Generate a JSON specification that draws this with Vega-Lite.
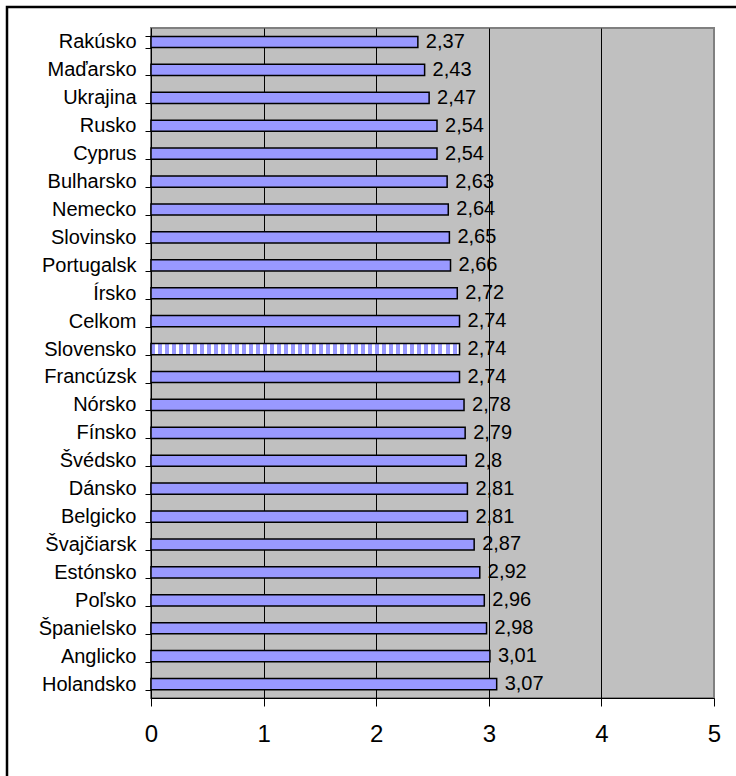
{
  "$schema": "https://vega.github.io/schema/vega-lite/v6.json",
  "width": 563,
  "height": 670,
  "autosize": {"type": "none"},
  "padding": {"left": 151, "top": 28, "right": 22, "bottom": 78},
  "background": "white",
  "config": {
    "font": "Liberation Sans",
    "view": {"fill": "#C0C0C0", "stroke": "#808080", "strokeWidth": 2},
    "locale": {
      "number": {"decimal": ",", "thousands": " ", "grouping": [3], "currency": ["", " €"]}
    }
  },
  "data": {
    "values": [
      {"krajina": "Rakúsko", "hodnota": 2.37},
      {"krajina": "Maďarsko", "hodnota": 2.43},
      {"krajina": "Ukrajina", "hodnota": 2.47},
      {"krajina": "Rusko", "hodnota": 2.54},
      {"krajina": "Cyprus", "hodnota": 2.54},
      {"krajina": "Bulharsko", "hodnota": 2.63},
      {"krajina": "Nemecko", "hodnota": 2.64},
      {"krajina": "Slovinsko", "hodnota": 2.65},
      {"krajina": "Portugalsk", "hodnota": 2.66},
      {"krajina": "Írsko", "hodnota": 2.72},
      {"krajina": "Celkom", "hodnota": 2.74},
      {"krajina": "Slovensko", "hodnota": 2.74},
      {"krajina": "Francúzsk", "hodnota": 2.74},
      {"krajina": "Nórsko", "hodnota": 2.78},
      {"krajina": "Fínsko", "hodnota": 2.79},
      {"krajina": "Švédsko", "hodnota": 2.8},
      {"krajina": "Dánsko", "hodnota": 2.81},
      {"krajina": "Belgicko", "hodnota": 2.81},
      {"krajina": "Švajčiarsk", "hodnota": 2.87},
      {"krajina": "Estónsko", "hodnota": 2.92},
      {"krajina": "Poľsko", "hodnota": 2.96},
      {"krajina": "Španielsko", "hodnota": 2.98},
      {"krajina": "Anglicko", "hodnota": 3.01},
      {"krajina": "Holandsko", "hodnota": 3.07}
    ]
  },
  "encoding": {
    "y": {
      "field": "krajina",
      "type": "nominal",
      "sort": null,
      "title": null,
      "scale": {"paddingInner": 0.6, "paddingOuter": 0.3},
      "axis": {
        "tickBand": "extent",
        "tickSize": 6,
        "tickColor": "black",
        "domainColor": "black",
        "domainWidth": 1,
        "labelFontSize": 20,
        "labelColor": "black",
        "labelPadding": 9,
        "grid": false
      }
    },
    "x": {
      "field": "hodnota",
      "type": "quantitative",
      "title": null,
      "scale": {"domain": [0, 5], "nice": false},
      "axis": {
        "values": [0, 1, 2, 3, 4, 5],
        "grid": true,
        "gridColor": {"condition": {"test": "datum.value === 5", "value": "#808080"}, "value": "black"},
        "gridOpacity": 1,
        "gridWidth": 1,
        "tickSize": 8,
        "tickColor": "black",
        "domainColor": "black",
        "domainWidth": 1,
        "labelFontSize": 24,
        "labelColor": "black",
        "labelPadding": 16,
        "labelFlush": false,
        "format": "d"
      }
    }
  },
  "layer": [
    {
      "mark": {"type": "bar", "stroke": "black", "strokeWidth": 1.5},
      "encoding": {
        "color": {
          "condition": {
            "test": "datum.krajina === 'Slovensko'",
            "value": {
              "gradient": "linear",
              "x1": 0, "y1": 0, "x2": 1, "y2": 0,
              "stops": [
                {"offset": 0, "color": "#9999FF"}, {"offset": 0.01299, "color": "#9999FF"}, {"offset": 0.01299, "color": "#FFFFFF"}, {"offset": 0.02273, "color": "#FFFFFF"},
                {"offset": 0.02273, "color": "#9999FF"}, {"offset": 0.03571, "color": "#9999FF"}, {"offset": 0.03571, "color": "#FFFFFF"}, {"offset": 0.04545, "color": "#FFFFFF"},
                {"offset": 0.04545, "color": "#9999FF"}, {"offset": 0.05844, "color": "#9999FF"}, {"offset": 0.05844, "color": "#FFFFFF"}, {"offset": 0.06818, "color": "#FFFFFF"},
                {"offset": 0.06818, "color": "#9999FF"}, {"offset": 0.08117, "color": "#9999FF"}, {"offset": 0.08117, "color": "#FFFFFF"}, {"offset": 0.09091, "color": "#FFFFFF"},
                {"offset": 0.09091, "color": "#9999FF"}, {"offset": 0.1039, "color": "#9999FF"}, {"offset": 0.1039, "color": "#FFFFFF"}, {"offset": 0.11364, "color": "#FFFFFF"},
                {"offset": 0.11364, "color": "#9999FF"}, {"offset": 0.12662, "color": "#9999FF"}, {"offset": 0.12662, "color": "#FFFFFF"}, {"offset": 0.13636, "color": "#FFFFFF"},
                {"offset": 0.13636, "color": "#9999FF"}, {"offset": 0.14935, "color": "#9999FF"}, {"offset": 0.14935, "color": "#FFFFFF"}, {"offset": 0.15909, "color": "#FFFFFF"},
                {"offset": 0.15909, "color": "#9999FF"}, {"offset": 0.17208, "color": "#9999FF"}, {"offset": 0.17208, "color": "#FFFFFF"}, {"offset": 0.18182, "color": "#FFFFFF"},
                {"offset": 0.18182, "color": "#9999FF"}, {"offset": 0.19481, "color": "#9999FF"}, {"offset": 0.19481, "color": "#FFFFFF"}, {"offset": 0.20455, "color": "#FFFFFF"},
                {"offset": 0.20455, "color": "#9999FF"}, {"offset": 0.21753, "color": "#9999FF"}, {"offset": 0.21753, "color": "#FFFFFF"}, {"offset": 0.22727, "color": "#FFFFFF"},
                {"offset": 0.22727, "color": "#9999FF"}, {"offset": 0.24026, "color": "#9999FF"}, {"offset": 0.24026, "color": "#FFFFFF"}, {"offset": 0.25, "color": "#FFFFFF"},
                {"offset": 0.25, "color": "#9999FF"}, {"offset": 0.26299, "color": "#9999FF"}, {"offset": 0.26299, "color": "#FFFFFF"}, {"offset": 0.27273, "color": "#FFFFFF"},
                {"offset": 0.27273, "color": "#9999FF"}, {"offset": 0.28571, "color": "#9999FF"}, {"offset": 0.28571, "color": "#FFFFFF"}, {"offset": 0.29545, "color": "#FFFFFF"},
                {"offset": 0.29545, "color": "#9999FF"}, {"offset": 0.30844, "color": "#9999FF"}, {"offset": 0.30844, "color": "#FFFFFF"}, {"offset": 0.31818, "color": "#FFFFFF"},
                {"offset": 0.31818, "color": "#9999FF"}, {"offset": 0.33117, "color": "#9999FF"}, {"offset": 0.33117, "color": "#FFFFFF"}, {"offset": 0.34091, "color": "#FFFFFF"},
                {"offset": 0.34091, "color": "#9999FF"}, {"offset": 0.3539, "color": "#9999FF"}, {"offset": 0.3539, "color": "#FFFFFF"}, {"offset": 0.36364, "color": "#FFFFFF"},
                {"offset": 0.36364, "color": "#9999FF"}, {"offset": 0.37662, "color": "#9999FF"}, {"offset": 0.37662, "color": "#FFFFFF"}, {"offset": 0.38636, "color": "#FFFFFF"},
                {"offset": 0.38636, "color": "#9999FF"}, {"offset": 0.39935, "color": "#9999FF"}, {"offset": 0.39935, "color": "#FFFFFF"}, {"offset": 0.40909, "color": "#FFFFFF"},
                {"offset": 0.40909, "color": "#9999FF"}, {"offset": 0.42208, "color": "#9999FF"}, {"offset": 0.42208, "color": "#FFFFFF"}, {"offset": 0.43182, "color": "#FFFFFF"},
                {"offset": 0.43182, "color": "#9999FF"}, {"offset": 0.44481, "color": "#9999FF"}, {"offset": 0.44481, "color": "#FFFFFF"}, {"offset": 0.45455, "color": "#FFFFFF"},
                {"offset": 0.45455, "color": "#9999FF"}, {"offset": 0.46753, "color": "#9999FF"}, {"offset": 0.46753, "color": "#FFFFFF"}, {"offset": 0.47727, "color": "#FFFFFF"},
                {"offset": 0.47727, "color": "#9999FF"}, {"offset": 0.49026, "color": "#9999FF"}, {"offset": 0.49026, "color": "#FFFFFF"}, {"offset": 0.5, "color": "#FFFFFF"},
                {"offset": 0.5, "color": "#9999FF"}, {"offset": 0.51299, "color": "#9999FF"}, {"offset": 0.51299, "color": "#FFFFFF"}, {"offset": 0.52273, "color": "#FFFFFF"},
                {"offset": 0.52273, "color": "#9999FF"}, {"offset": 0.53571, "color": "#9999FF"}, {"offset": 0.53571, "color": "#FFFFFF"}, {"offset": 0.54545, "color": "#FFFFFF"},
                {"offset": 0.54545, "color": "#9999FF"}, {"offset": 0.55844, "color": "#9999FF"}, {"offset": 0.55844, "color": "#FFFFFF"}, {"offset": 0.56818, "color": "#FFFFFF"},
                {"offset": 0.56818, "color": "#9999FF"}, {"offset": 0.58117, "color": "#9999FF"}, {"offset": 0.58117, "color": "#FFFFFF"}, {"offset": 0.59091, "color": "#FFFFFF"},
                {"offset": 0.59091, "color": "#9999FF"}, {"offset": 0.6039, "color": "#9999FF"}, {"offset": 0.6039, "color": "#FFFFFF"}, {"offset": 0.61364, "color": "#FFFFFF"},
                {"offset": 0.61364, "color": "#9999FF"}, {"offset": 0.62662, "color": "#9999FF"}, {"offset": 0.62662, "color": "#FFFFFF"}, {"offset": 0.63636, "color": "#FFFFFF"},
                {"offset": 0.63636, "color": "#9999FF"}, {"offset": 0.64935, "color": "#9999FF"}, {"offset": 0.64935, "color": "#FFFFFF"}, {"offset": 0.65909, "color": "#FFFFFF"},
                {"offset": 0.65909, "color": "#9999FF"}, {"offset": 0.67208, "color": "#9999FF"}, {"offset": 0.67208, "color": "#FFFFFF"}, {"offset": 0.68182, "color": "#FFFFFF"},
                {"offset": 0.68182, "color": "#9999FF"}, {"offset": 0.69481, "color": "#9999FF"}, {"offset": 0.69481, "color": "#FFFFFF"}, {"offset": 0.70455, "color": "#FFFFFF"},
                {"offset": 0.70455, "color": "#9999FF"}, {"offset": 0.71753, "color": "#9999FF"}, {"offset": 0.71753, "color": "#FFFFFF"}, {"offset": 0.72727, "color": "#FFFFFF"},
                {"offset": 0.72727, "color": "#9999FF"}, {"offset": 0.74026, "color": "#9999FF"}, {"offset": 0.74026, "color": "#FFFFFF"}, {"offset": 0.75, "color": "#FFFFFF"},
                {"offset": 0.75, "color": "#9999FF"}, {"offset": 0.76299, "color": "#9999FF"}, {"offset": 0.76299, "color": "#FFFFFF"}, {"offset": 0.77273, "color": "#FFFFFF"},
                {"offset": 0.77273, "color": "#9999FF"}, {"offset": 0.78571, "color": "#9999FF"}, {"offset": 0.78571, "color": "#FFFFFF"}, {"offset": 0.79545, "color": "#FFFFFF"},
                {"offset": 0.79545, "color": "#9999FF"}, {"offset": 0.80844, "color": "#9999FF"}, {"offset": 0.80844, "color": "#FFFFFF"}, {"offset": 0.81818, "color": "#FFFFFF"},
                {"offset": 0.81818, "color": "#9999FF"}, {"offset": 0.83117, "color": "#9999FF"}, {"offset": 0.83117, "color": "#FFFFFF"}, {"offset": 0.84091, "color": "#FFFFFF"},
                {"offset": 0.84091, "color": "#9999FF"}, {"offset": 0.8539, "color": "#9999FF"}, {"offset": 0.8539, "color": "#FFFFFF"}, {"offset": 0.86364, "color": "#FFFFFF"},
                {"offset": 0.86364, "color": "#9999FF"}, {"offset": 0.87662, "color": "#9999FF"}, {"offset": 0.87662, "color": "#FFFFFF"}, {"offset": 0.88636, "color": "#FFFFFF"},
                {"offset": 0.88636, "color": "#9999FF"}, {"offset": 0.89935, "color": "#9999FF"}, {"offset": 0.89935, "color": "#FFFFFF"}, {"offset": 0.90909, "color": "#FFFFFF"},
                {"offset": 0.90909, "color": "#9999FF"}, {"offset": 0.92208, "color": "#9999FF"}, {"offset": 0.92208, "color": "#FFFFFF"}, {"offset": 0.93182, "color": "#FFFFFF"},
                {"offset": 0.93182, "color": "#9999FF"}, {"offset": 0.94481, "color": "#9999FF"}, {"offset": 0.94481, "color": "#FFFFFF"}, {"offset": 0.95455, "color": "#FFFFFF"},
                {"offset": 0.95455, "color": "#9999FF"}, {"offset": 0.96753, "color": "#9999FF"}, {"offset": 0.96753, "color": "#FFFFFF"}, {"offset": 0.97727, "color": "#FFFFFF"},
                {"offset": 0.97727, "color": "#9999FF"}, {"offset": 0.99026, "color": "#9999FF"}, {"offset": 0.99026, "color": "#FFFFFF"}, {"offset": 1, "color": "#FFFFFF"}
              ]
            }
          },
          "value": "#9999FF"
        }
      }
    },
    {
      "mark": {"type": "text", "align": "left", "baseline": "middle", "dx": 8, "fontSize": 20, "color": "black"},
      "encoding": {
        "text": {"field": "hodnota", "type": "quantitative", "format": ".3~r"}
      }
    },
    {
      "data": {"values": [{}]},
      "mark": {"type": "rect", "fill": null, "stroke": "black", "strokeWidth": 2.5, "clip": false},
      "encoding": {
        "x": {"value": -144},
        "x2": {"value": 600},
        "y": {"value": -21},
        "y2": {"value": 760}
      }
    }
  ]
}
